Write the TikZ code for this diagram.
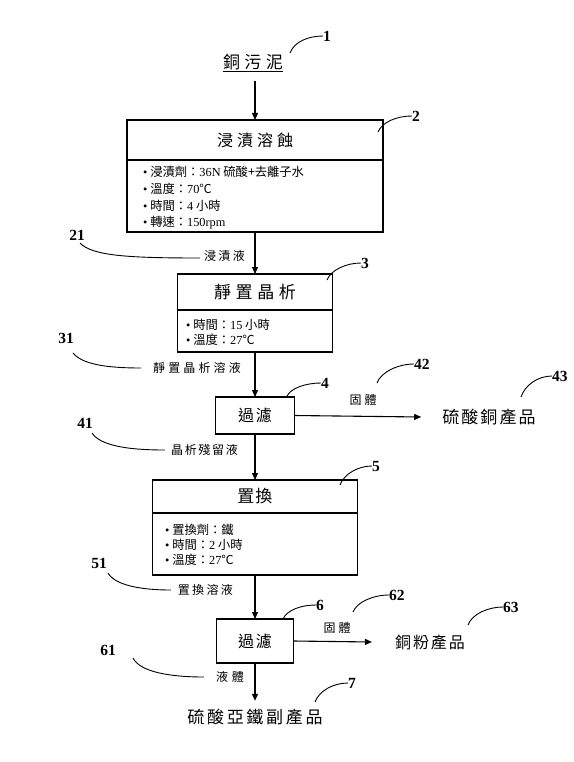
\documentclass[tikz,border=0pt]{standalone}
\usepackage{fontspec}
\setmainfont{Liberation Serif}
\newfontfamily\cjk{Noto Sans CJK TC}
\usetikzlibrary{arrows.meta}
\newcommand\lsp[2]{{\addfontfeature{LetterSpace=#1}#2}}
\begin{document}
\begin{tikzpicture}[x=1pt,y=-1pt,
  flow/.style={-{Triangle[length=7pt,width=6pt]}, line width=1.1pt},
  lead/.style={line width=0.9pt},
  boxpart/.style={draw, line width=1.2pt, inner sep=0pt, outer sep=0pt},
  num/.style={font=\fontsize{15.5}{15.5}\selectfont\bfseries, inner sep=0pt},
  big/.style={font=\cjk\fontsize{17}{17}\selectfont, inner sep=0pt},
  mid/.style={font=\cjk\fontsize{16}{16}\selectfont},
  small/.style={font=\cjk\fontsize{12}{12}\selectfont, inner sep=0pt},
  items/.style={font=\cjk\fontsize{12.3}{16.7}\selectfont, align=left, anchor=west, inner sep=0pt},
  items2/.style={items, font=\cjk\fontsize{12.3}{15.2}\selectfont},
]
\useasboundingbox (0,0) rectangle (573,762);

% source
\node[big] (src) at (253,62) {\lsp{26}{銅污泥}};
\draw[line width=0.9pt] ([yshift=-1pt]src.south west) -- ([yshift=-1pt]src.south east);

% box 1
\node[boxpart, mid, minimum width=256pt, minimum height=40pt] (b1t) at (255,140) {\lsp{25}{浸漬溶蝕}};
\node[boxpart, minimum width=256pt, minimum height=72pt, anchor=north] (b1b) at (b1t.south) {};
\node[items] (i1) at (143,198) {%
{\rmfamily\textbullet}\ 浸漬劑：{\rmfamily 36N} 硫酸+去離子水\\
{\rmfamily\textbullet}\ 溫度：{\rmfamily 70}℃\\
{\rmfamily\textbullet}\ 時間：{\rmfamily 4} 小時\\
{\rmfamily\textbullet}\ 轉速：{\rmfamily 150rpm}};

% box 2
\node[boxpart, font=\cjk\fontsize{17}{17}\selectfont, minimum width=155pt, minimum height=36pt] (b2t) at (255,292) {\lsp{27}{靜置晶析}};
\node[boxpart, minimum width=155pt, minimum height=42pt, anchor=north] (b2b) at (b2t.south) {};
\node[items2] (i2) at (186,332.5) {%
{\rmfamily\textbullet}\ 時間：{\rmfamily 15} 小時\\
{\rmfamily\textbullet}\ 溫度：{\rmfamily 27}℃};

% box 3
\node[boxpart, mid, minimum width=79pt, minimum height=37pt] (b3) at (255,415.5) {\lsp{12}{過濾}};

% box 4
\node[boxpart, font=\cjk\fontsize{17}{17}\selectfont, minimum width=205pt, minimum height=33pt] (b4t) at (255,496.5) {\lsp{6}{置換}};
\node[boxpart, minimum width=205pt, minimum height=62pt, anchor=north] (b4b) at (b4t.south) {};
\node[items2] (i4) at (165,545) {%
{\rmfamily\textbullet}\ 置換劑：鐵\\
{\rmfamily\textbullet}\ 時間：{\rmfamily 2} 小時\\
{\rmfamily\textbullet}\ 溫度：{\rmfamily 27}℃};

% box 5
\node[boxpart, mid, minimum width=77pt, minimum height=44pt] (b5) at (255,641) {\lsp{12}{過濾}};

% products
\node[big] (cuso4) at (489,417) {\lsp{12}{硫酸銅產品}};
\node[big, font=\cjk\fontsize{16}{16}\selectfont] (cupow) at (430,642) {\lsp{12}{銅粉產品}};
\node[big] (feso4) at (255,717) {\lsp{16}{硫酸亞鐵副產品}};

% flow arrows
\coordinate (s1) at ([yshift=-11pt]src.south);
\draw[flow] (b1t.north |- s1) -- (b1t.north);
\draw[flow] (b1b.south) -- (b2t.north);
\draw[flow] (b2b.south) -- (b3.north);
\draw[flow] (b3.south) -- (b4t.north);
\draw[flow] (b4b.south) -- (b5.north);
\draw[flow] (b5.south) -- ([yshift=8pt]feso4.north);
\draw[flow] (b3.east) -- ([xshift=-21pt]cuso4.west);
\draw[flow] (b5.east) -- ([xshift=-23pt]cupow.west);

% arrow labels
\node[small, anchor=east] (l21) at (245,256) {\lsp{20}{浸漬液}};
\node[small, anchor=east] (l31) at (241,368) {\lsp{26}{靜置晶析溶液}};
\node[small, anchor=east] (l41) at (238,450) {\lsp{14}{晶析殘留液}};
\node[small, anchor=east] (l51) at (233,590) {\lsp{19}{置換溶液}};
\node[small, anchor=east] (l61) at (244,677) {\lsp{30}{液體}};
\node[small] (s42) at (363,400) {\lsp{25}{固體}};
\node[small] (s62) at (337,628) {\lsp{25}{固體}};

% reference numbers (right side)
\node[num, anchor=west] (n1) at (323,36) {1};
\node[num, anchor=west] (n2) at (412,116) {2};
\node[num, anchor=west] (n3) at (361,263) {3};
\node[num, anchor=west] (n4) at (321,383) {4};
\node[num, anchor=west] (n5) at (372,466) {5};
\node[num, anchor=west] (n6) at (316,605) {6};
\node[num, anchor=west] (n7) at (348,683) {7};
\node[num, anchor=west] (n42) at (414,364) {42};
\node[num, anchor=west] (n43) at (552,376) {43};
\node[num, anchor=west] (n62) at (389,595) {62};
\node[num, anchor=west] (n63) at (503,607) {63};

\coordinate (c1) at (290,53);
\coordinate (c2) at (378,132);
\coordinate (c3) at (327,280);
\coordinate (c4) at (287,396);
\coordinate (c5) at (340,485);
\coordinate (c6) at (283,619);
\coordinate (c7) at (315,702);
\coordinate (c42) at (377,383);
\coordinate (c43) at (521,397);
\coordinate (c62) at (353,612);
\coordinate (c63) at (468,625);

\draw[lead] (c1) .. controls (294,42) and (308,36) .. (n1.west);
\draw[lead] (c2) .. controls (382,122) and (397,116) .. (n2.west);
\draw[lead] (c3) .. controls (331,270) and (346,263) .. (n3.west);
\draw[lead] (c4) .. controls (291,388) and (306,383) .. (n4.west);
\draw[lead] (c5) .. controls (344,474) and (358,466) .. (n5.west);
\draw[lead] (c6) .. controls (287,610) and (301,605) .. (n6.west);
\draw[lead] (c7) .. controls (319,691) and (333,683) .. (n7.west);
\draw[lead] (c42) .. controls (381,372) and (398,364) .. (n42.west);
\draw[lead] (c43) .. controls (525,385) and (538,376) .. (n43.west);
\draw[lead] (c62) .. controls (357,602) and (373,595) .. (n62.west);
\draw[lead] (c63) .. controls (472,614) and (488,607) .. (n63.west);

% reference numbers (left side)
\node[num] (n21) at (77,235) {21};
\node[num] (n31) at (66,338) {31};
\node[num] (n41) at (85,423) {41};
\node[num] (n51) at (99,563) {51};
\node[num] (n61) at (108,650) {61};

\coordinate (c21) at (80,243);
\coordinate (c31) at (73,353);
\coordinate (c41) at (92,433);
\coordinate (c51) at (108,573);
\coordinate (c61) at (133,658);

\draw[lead] (c21) .. controls (92,256) and (130,258) .. ([xshift=-4pt,yshift=-2pt]l21.west);
\draw[lead] (c31) .. controls (82,364) and (105,368) .. ([xshift=-12pt]l31.west);
\draw[lead] (c41) .. controls (100,445) and (125,450) .. ([xshift=-6pt]l41.west);
\draw[lead] (c51) .. controls (115,585) and (140,590) .. ([xshift=-7pt]l51.west);
\draw[lead] (c61) .. controls (140,672) and (170,677) .. ([xshift=-12pt]l61.west);
\end{tikzpicture}
\end{document}
